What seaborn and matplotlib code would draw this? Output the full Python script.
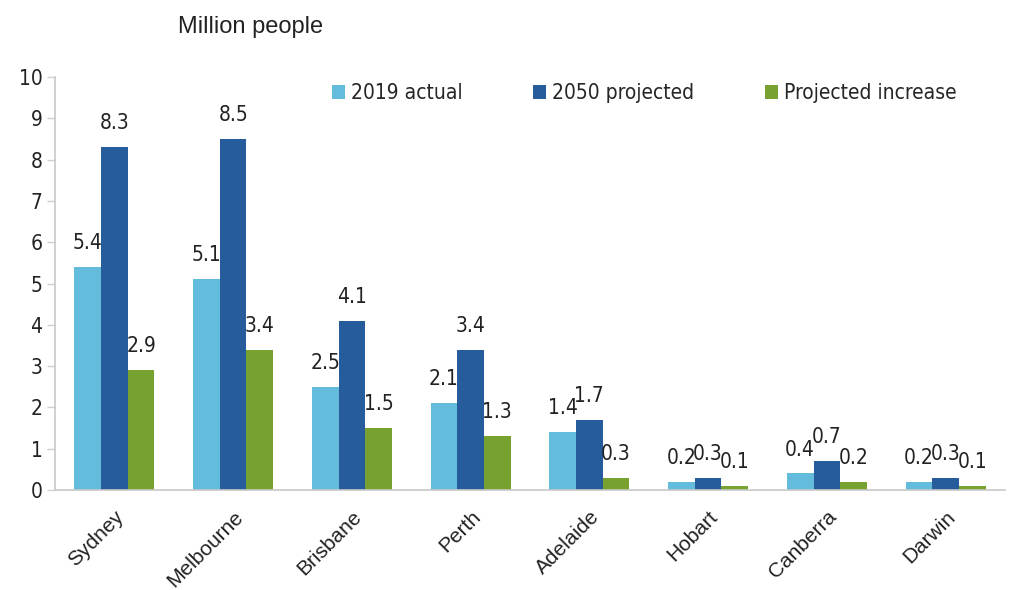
import matplotlib
matplotlib.use("Agg")
import matplotlib.pyplot as plt
from matplotlib import font_manager
import seaborn as sns
import pandas as pd

cities = ["Sydney", "Melbourne", "Brisbane", "Perth", "Adelaide", "Hobart", "Canberra", "Darwin"]
actual_2019 = [5.4, 5.1, 2.5, 2.1, 1.4, 0.2, 0.4, 0.2]
projected_2050 = [8.3, 8.5, 4.1, 3.4, 1.7, 0.3, 0.7, 0.3]
projected_increase = [2.9, 3.4, 1.5, 1.3, 0.3, 0.1, 0.2, 0.1]
series_names = ["2019 actual", "2050 projected", "Projected increase"]
colors = ["#63BCDC", "#265C9C", "#78A22F"]

sns.set_style("white")
plt.rcParams["font.family"] = ["Liberation Sans", "DejaVu Sans"]

# pick a condensed face for the numbers if one is installed
num_font = {"family": "Liberation Sans"}
for f in font_manager.fontManager.ttflist:
    if f.name in ("Liberation Sans Narrow", "DejaVu Sans Condensed") or (
        f.name in ("Liberation Sans", "DejaVu Sans") and "condensed" in str(f.stretch)
    ):
        num_font = {"family": f.name, "stretch": f.stretch}
        break

df = pd.DataFrame({
    "city": cities * 3,
    "series": sum([[s] * len(cities) for s in series_names], []),
    "value": actual_2019 + projected_2050 + projected_increase,
})

fig = plt.figure(figsize=(10.09, 5.9), dpi=100)
ax = fig.add_axes([55 / 1009, 100 / 590, 950 / 1009, 413 / 590])

sns.barplot(data=df, x="city", y="value", hue="series", hue_order=series_names,
            palette=colors, width=0.675, gap=0, saturation=1, ax=ax,
            errorbar=None, linewidth=0)

num_size = 15
for cont in ax.containers:
    ax.bar_label(cont, fmt="%.1f", padding=10, color="#222222",
                 fontproperties=font_manager.FontProperties(size=num_size, **num_font))

ax.set_ylim(0, 10)
ax.set_yticks(range(0, 11))
ax.set_xlim(-0.5, len(cities) - 0.5)
ax.set_xlabel("")
ax.set_ylabel("")

for lbl in ax.get_yticklabels():
    lbl.set_fontproperties(font_manager.FontProperties(size=num_size, **num_font))
    lbl.set_color("#222222")
ax.tick_params(axis="y", which="both", left=True, length=6, width=1, color="#D0D0D0", pad=3)
ax.tick_params(axis="x", bottom=False, pad=9)
plt.setp(ax.get_xticklabels(), rotation=45, ha="right", rotation_mode="anchor",
         fontsize=15, color="#222222")

for side in ["top", "right"]:
    ax.spines[side].set_visible(False)
for side in ["left", "bottom"]:
    ax.spines[side].set_color("#C8C8C8")
    ax.spines[side].set_linewidth(1.2)

leg = ax.legend(loc="upper left", bbox_to_anchor=(0.272, 1.03), ncol=3, frameon=False,
                handlelength=0.6, handleheight=0.6, handletextpad=0.3, columnspacing=3.4,
                prop=font_manager.FontProperties(size=num_size, **num_font))

fig.text(178 / 1009, 1 - 27 / 590, "Million people", fontsize=17, va="center", ha="left",
         color="#222222")

fig.savefig("out.png", dpi=100)
